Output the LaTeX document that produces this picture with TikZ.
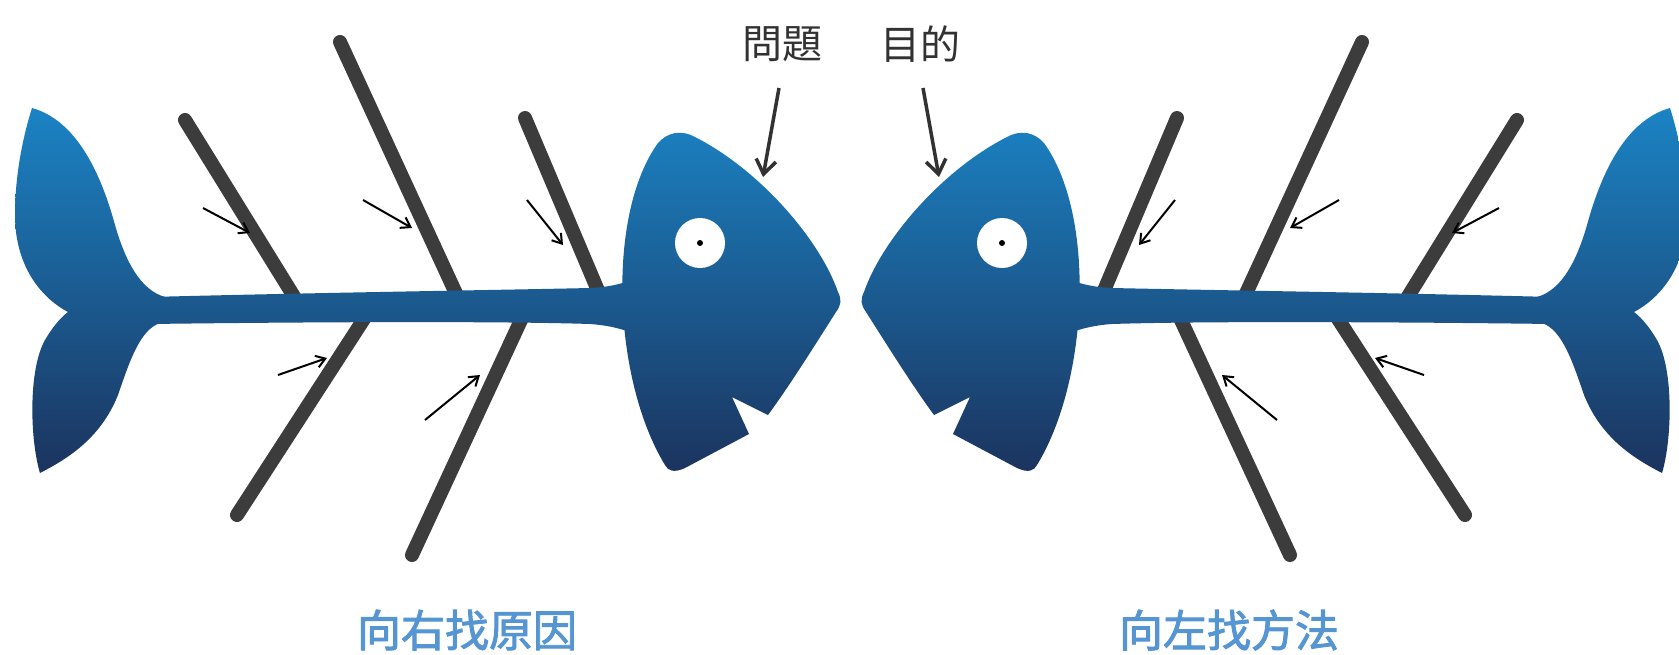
\documentclass[tikz,border=0pt]{standalone}
\usepackage{fontspec}
\newfontfamily\cjk{Noto Sans CJK TC}
\newfontfamily\cjkb[FakeBold=2]{Noto Sans CJK TC}
\usetikzlibrary{arrows.meta}
\definecolor{fishtop}{RGB}{27,134,200}
\definecolor{fishbot}{RGB}{27,50,92}
\definecolor{bonegray}{RGB}{60,60,60}
\definecolor{lablue}{RGB}{85,150,210}
\definecolor{labgray}{RGB}{50,50,50}
\tikzset{
  bone/.style={line width=14pt, line cap=round, draw=bonegray},
  smallarrow/.style={line width=2pt, draw=black, -{Straight Barb[length=9pt,width=12pt]}},
  labarrow/.style={line width=3.5pt, draw=labgray, -{Straight Barb[length=14pt,width=20pt]}},
  fishshade/.style={top color=fishtop, bottom color=fishbot},
  toplabel/.style={font=\cjk\fontsize{40}{40}\selectfont, text=labgray, inner sep=0pt},
  botlabel/.style={font=\cjkb\fontsize{44}{44}\selectfont, text=lablue, inner sep=0pt},
  fish/.pic={
    % bones
    \draw[bone] (185,120) -- (298,303);
    \draw[bone] (340,42) -- (459,300);
    \draw[bone] (525,118) -- (602,300);
    \draw[bone] (373,305) -- (237,515);
    \draw[bone] (528,305) -- (412,555);
    % tail
    \begin{scope}
      \clip (32,108) .. controls (75,120) and (100,170) .. (115,225)
        .. controls (125,260) and (140,290) .. (165,297) -- (175,297) -- (175,323) -- (160,323)
        .. controls (140,330) and (130,360) .. (118,395)
        .. controls (100,440) and (65,460) .. (40,473)
        .. controls (30,440) and (28,370) .. (45,340)
        .. controls (52,328) and (60,318) .. (68,312)
        .. controls (45,300) and (15,270) .. (15,215)
        .. controls (15,170) and (25,130) .. (32,108) -- cycle;
      \shade[fishshade] (0,95) rectangle (900,480);
    \end{scope}
    % spine
    \begin{scope}
      \clip (150,297) .. controls (300,293) and (500,290) .. (590,288)
        .. controls (610,287) and (620,284) .. (632,280) -- (632,333)
        .. controls (620,328) and (605,325) .. (590,324)
        .. controls (500,321) and (300,322) .. (150,324) -- cycle;
      \shade[fishshade] (0,95) rectangle (900,480);
    \end{scope}
    % head
    \begin{scope}
      \clip (658,143) .. controls (667,133) and (680,129) .. (695,137)
        .. controls (760,170) and (820,240) .. (838,292)
        .. controls (842,300) and (841,305) .. (836,312)
        .. controls (815,345) and (790,385) .. (768,415)
        -- (732,397) -- (749,434) -- (685,468)
        .. controls (674,473) and (668,471) .. (665,465)
        .. controls (613,380) and (606,215) .. (658,143) -- cycle;
      \shade[fishshade] (0,95) rectangle (900,480);
    \end{scope}
    % eye
    \fill[white] (700,243) circle[radius=25pt];
    \fill[black] (700,243) circle[radius=3pt];
    % small arrows
    \draw[smallarrow] (203,208) -- (250,233);
    \draw[smallarrow] (363,200) -- (412,228);
    \draw[smallarrow] (527,200) -- (563,245);
    \draw[smallarrow] (278,375) -- (327,358);
    \draw[smallarrow] (425,420) -- (480,375);
  }
}
\begin{document}
\begin{tikzpicture}[x=1pt,y=-1pt]
  \useasboundingbox (0,0) rectangle (1679,654);
  \fill[white] (0,0) rectangle (1679,654);
  \clip (0,0) rectangle (1679,654);
  \pic (lf) at (0,0) {fish};
  \pic[xscale=-1] (rf) at (1702,0) {fish};
  % top labels
  \node[toplabel] (q) at (782,44) {問題};
  \node[toplabel] (g) at (920,44) {目的};
  \coordinate (qa) at (779,88);
  \coordinate (qt) at (763,177);
  \coordinate (ga) at (923,88);
  \coordinate (gt) at (939,177);
  \draw[labarrow] (qa) -- (qt);
  \draw[labarrow] (ga) -- (gt);
  % bottom labels
  \node[botlabel] (l) at (467,630) {向右找原因};
  \node[botlabel] (r) at (1229,630) {向左找方法};
\end{tikzpicture}
\end{document}
